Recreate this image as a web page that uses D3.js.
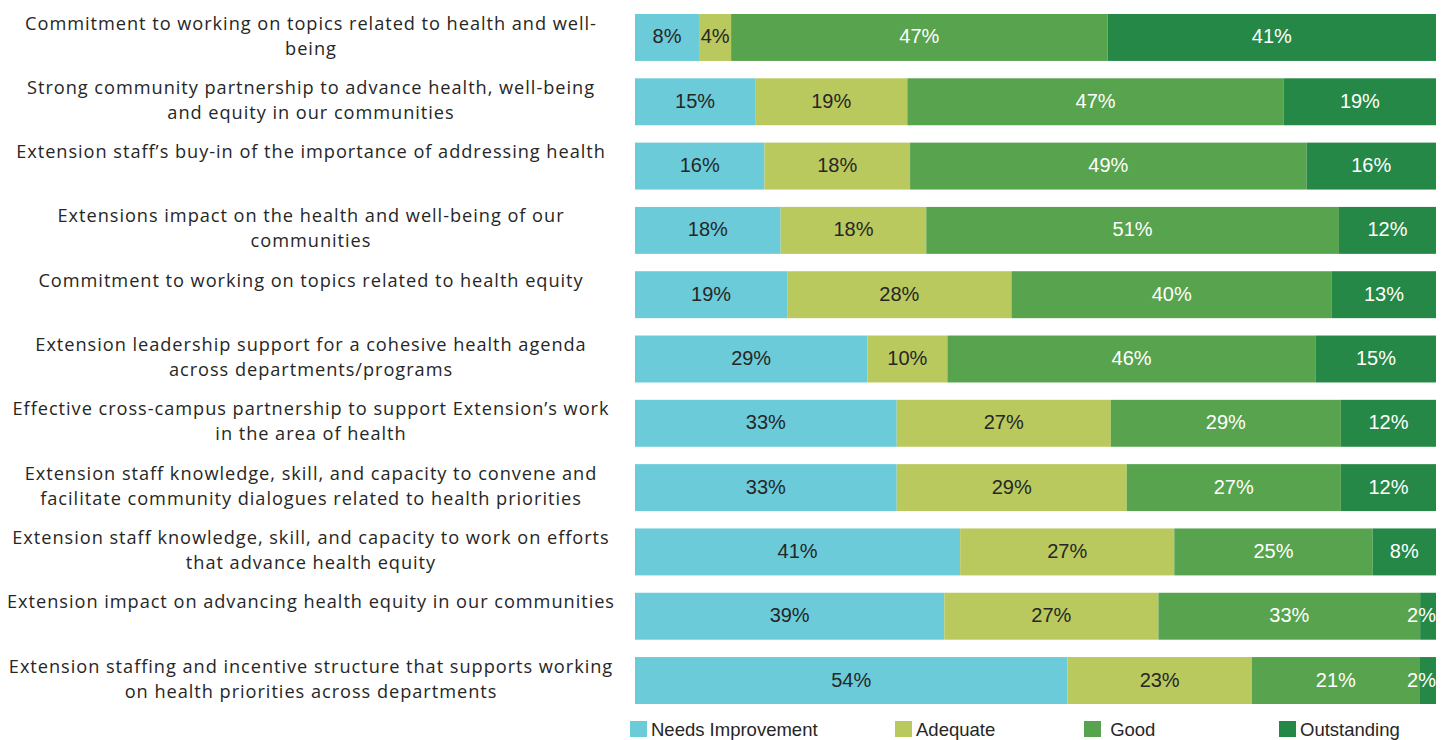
<!DOCTYPE html>
<html>
<head>
<meta charset="utf-8">
<script src="https://cdn.jsdelivr.net/npm/d3@7/dist/d3.min.js"></script>
<style>
  html, body { margin: 0; padding: 0; background: #ffffff; }
  svg { display: block; }
</style>
</head>
<body>
<svg id="chart" width="1445" height="740"></svg>
<script>
// Survey items (line breaks mark how each label wraps)
const categories = [
  "Commitment to working on topics related to health and well-\nbeing",
  "Strong community partnership to advance health, well-being\nand equity in our communities",
  "Extension staff\u2019s buy-in of the importance of addressing health",
  "Extensions impact on the health and well-being of our\ncommunities",
  "Commitment to working on topics related to health equity",
  "Extension leadership support for a cohesive health agenda\nacross departments/programs",
  "Effective cross-campus partnership to support Extension\u2019s work\nin the area of health",
  "Extension staff knowledge, skill, and capacity to convene and\nfacilitate community dialogues related to health priorities",
  "Extension staff knowledge, skill, and capacity to work on efforts\nthat advance health equity",
  "Extension impact on advancing health equity in our communities",
  "Extension staffing and incentive structure that supports working\non health priorities across departments"
];

// Ratings, percent of respondents
const needsImprovement = [8, 15, 16, 18, 19, 29, 33, 33, 41, 39, 54];
const adequate         = [4, 19, 18, 18, 28, 10, 27, 29, 27, 27, 23];
const good             = [47, 47, 49, 51, 40, 46, 29, 27, 25, 33, 21];
const outstanding      = [41, 19, 16, 12, 13, 15, 12, 12, 8, 2, 2];

const seriesNames  = ["Needs Improvement", "Adequate", " Good", "Outstanding"];
const seriesKeys   = ["ni", "adequate", "good", "outstanding"];
const seriesColors = ["#6bcbd9", "#b9c95e", "#58a34e", "#258846"];
const labelColors  = ["#262626", "#262626", "#ffffff", "#ffffff"];

const rows = categories.map((c, i) => ({
  category: c,
  ni: needsImprovement[i],
  adequate: adequate[i],
  good: good[i],
  outstanding: outstanding[i]
}));

const svg = d3.select("#chart");

// Plot area
const plotLeft = 635, plotRight = 1436, plotTop = 14, plotBottom = 704;

const x = d3.scaleLinear().domain([0, 1]).range([plotLeft, plotRight]);
const y = d3.scaleBand()
  .domain(d3.range(categories.length))
  .range([plotTop, plotBottom])
  .paddingInner(0.27)
  .paddingOuter(0);

// Each bar fills the full width: shares are taken of the row's total
const stacked = d3.stack()
  .keys(seriesKeys)
  .offset(d3.stackOffsetExpand)(rows);

const groups = svg.append("g").attr("class", "series")
  .selectAll("g")
  .data(stacked)
  .join("g")
  .attr("fill", (d, i) => seriesColors[i]);

groups.selectAll("rect")
  .data(d => d.map((seg, j) => ({ seg, j })))
  .join("rect")
  .attr("x", d => x(d.seg[0]))
  .attr("y", d => y(d.j))
  .attr("width", d => x(d.seg[1]) - x(d.seg[0]))
  .attr("height", y.bandwidth());

// Value labels, centred in their segment and kept inside the plot
const valueLayer = svg.append("g").attr("class", "values")
  .style("font-family", "'Liberation Sans', Arial, sans-serif")
  .style("font-size", "20px");

stacked.forEach((layer, si) => {
  layer.forEach((seg, j) => {
    const value = rows[j][seriesKeys[si]];
    const t = valueLayer.append("text")
      .attr("fill", labelColors[si])
      .attr("text-anchor", "middle")
      .attr("dominant-baseline", "central")
      .attr("y", y(j) + y.bandwidth() / 2 - 1)
      .text(value + "%");
    const w = t.node().getComputedTextLength();
    let cx = (x(seg[0]) + x(seg[1])) / 2;
    cx = Math.min(cx, plotRight - w / 2);
    t.attr("x", cx);
  });
});

// Category labels on the left, centred and wrapped
const catFont = 18.2;
const lineHeight = 25;
const catLayer = svg.append("g").attr("class", "categories")
  .style("font-family", "'Open Sans', 'Noto Sans', sans-serif")
  .style("font-size", catFont + "px")
  .attr("fill", "#262626");

categories.forEach((c, j) => {
  const lines = c.split("\n");
  const t = catLayer.append("text")
    .attr("text-anchor", "middle")
    .attr("dominant-baseline", "central");
  lines.forEach((ln, k) => {
    t.append("tspan")
      .attr("x", 311)
      .attr("y", y(j) + 8.5 + k * lineHeight)
      .text(ln);
  });
});

// Widen the tracking a little so the longest line spans the label column
(function fitLabels() {
  let maxW = 0, maxChars = 1;
  catLayer.selectAll("tspan").each(function () {
    const w = this.getComputedTextLength();
    if (w > maxW) { maxW = w; maxChars = this.textContent.length; }
  });
  const target = 608;
  const spacing = Math.max(0, (target - maxW) / maxChars);
  catLayer.style("letter-spacing", spacing.toFixed(3) + "px");
})();

// Legend
const legendX = [630, 895, 1084, 1279];
const legend = svg.append("g").attr("class", "legend")
  .style("font-family", "'Liberation Sans', Arial, sans-serif")
  .style("font-size", "18.5px");

seriesNames.forEach((name, i) => {
  const g = legend.append("g").attr("transform", `translate(${legendX[i]},721)`);
  g.append("rect").attr("width", 17).attr("height", 16).attr("fill", seriesColors[i]);
  g.append("text")
    .attr("x", 21)
    .attr("y", 8.5)
    .attr("dominant-baseline", "central")
    .attr("fill", "#262626")
    .style("white-space", "pre")
    .text(name);
});
</script>
</body>
</html>
